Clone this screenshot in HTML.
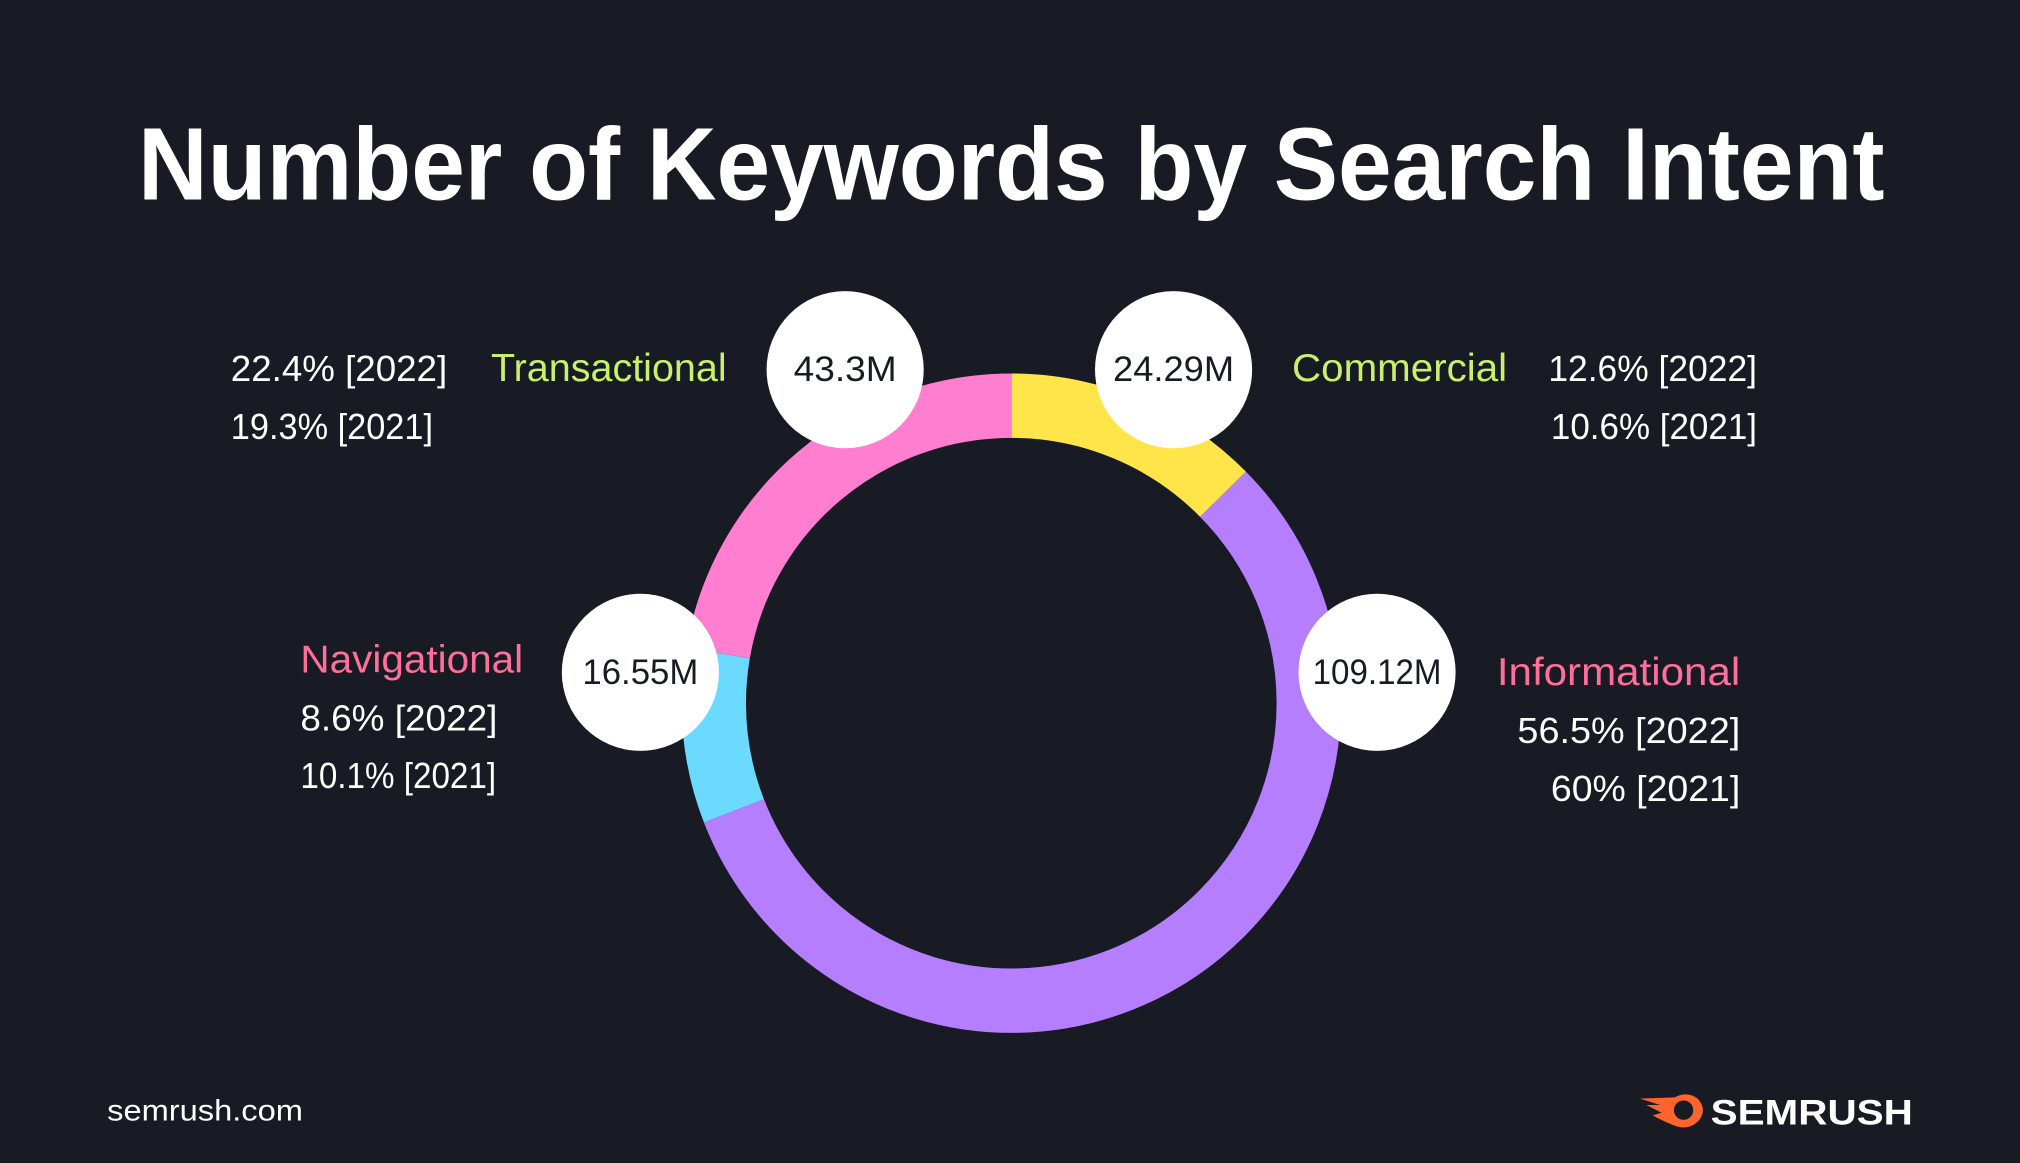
<!DOCTYPE html>
<html><head><meta charset="utf-8"><style>
html,body{margin:0;padding:0;background:#181b24;}
svg{display:block}
text{font-family:"Liberation Sans","DejaVu Sans",sans-serif;}
</style></head><body>
<svg width="2020" height="1163" viewBox="0 0 1568 903" xmlns="http://www.w3.org/2000/svg">
<rect width="1568" height="903" fill="#181b24"/>
<text x="785" y="155" text-anchor="middle" font-size="80" font-weight="bold" fill="#fff" textLength="1356" lengthAdjust="spacingAndGlyphs">Number of Keywords by Search Intent</text>
<g transform="rotate(-90 785 546)" fill="none" stroke-width="50">
<circle cx="785" cy="546" r="231" stroke="#ffe44a" stroke-dasharray="182.9 1451.4" stroke-dashoffset="0"/>
<circle cx="785" cy="546" r="231" stroke="#b57eff" stroke-dasharray="820 1451.4" stroke-dashoffset="-182.9"/>
<circle cx="785" cy="546" r="231" stroke="#6cd9ff" stroke-dasharray="124.8 1451.4" stroke-dashoffset="-1002.9"/>
<circle cx="785" cy="546" r="231" stroke="#ff7ed0" stroke-dasharray="325 1451.4" stroke-dashoffset="-1127.7"/>
</g>
<g fill="#fff">
<circle cx="656" cy="287" r="61"/><circle cx="911" cy="287" r="61"/>
<circle cx="497" cy="522" r="61"/><circle cx="1069" cy="522" r="61"/>
</g>
<g font-size="27" fill="#181b24" text-anchor="middle" lengthAdjust="spacingAndGlyphs">
<text x="656" y="296" textLength="80" lengthAdjust="spacingAndGlyphs">43.3M</text>
<text x="911" y="296" textLength="94" lengthAdjust="spacingAndGlyphs">24.29M</text>
<text x="497" y="531" textLength="90" lengthAdjust="spacingAndGlyphs">16.55M</text>
<text x="1069" y="531" textLength="100" lengthAdjust="spacingAndGlyphs">109.12M</text>
</g>
<g font-size="28" fill="#fff">
<text x="179" y="296" textLength="168" lengthAdjust="spacingAndGlyphs">22.4% [2022]</text>
<text x="179" y="341" textLength="157" lengthAdjust="spacingAndGlyphs">19.3% [2021]</text>
<text x="233" y="567" textLength="153" lengthAdjust="spacingAndGlyphs">8.6% [2022]</text>
<text x="233" y="612" textLength="152" lengthAdjust="spacingAndGlyphs">10.1% [2021]</text>
<text x="1202" y="296" textLength="162" lengthAdjust="spacingAndGlyphs">12.6% [2022]</text>
<text x="1204" y="341" textLength="160" lengthAdjust="spacingAndGlyphs">10.6% [2021]</text>
<text x="1178" y="577" textLength="173" lengthAdjust="spacingAndGlyphs">56.5% [2022]</text>
<text x="1204" y="622" textLength="147" lengthAdjust="spacingAndGlyphs">60% [2021]</text>
</g>
<g font-size="30">
<text x="381" y="296" fill="#c8f06a" textLength="183" lengthAdjust="spacingAndGlyphs">Transactional</text>
<text x="1003" y="296" fill="#c8f06a" textLength="167" lengthAdjust="spacingAndGlyphs">Commercial</text>
<text x="233" y="522" fill="#ff6f9a" textLength="173" lengthAdjust="spacingAndGlyphs">Navigational</text>
<text x="1162" y="532" fill="#ff6f9a" textLength="189" lengthAdjust="spacingAndGlyphs">Informational</text>
</g>
<text x="83" y="870" font-size="23" fill="#fff" textLength="152" lengthAdjust="spacingAndGlyphs">semrush.com</text>
<g>
<path d="M1273 853 L1300 852 Q1310 847 1318 853 Q1326 862 1318 871 Q1310 878 1300 874 Q1290 870 1283 866 L1290 864 L1278 858 L1289 858 Z" fill="#ff642d"/>
<circle cx="1307" cy="862" r="7.5" fill="#181b24"/>
<text x="1328" y="873" font-size="27" font-weight="bold" fill="#fff" textLength="157" lengthAdjust="spacingAndGlyphs">SEMRUSH</text>
</g>
</svg>
</body></html>
